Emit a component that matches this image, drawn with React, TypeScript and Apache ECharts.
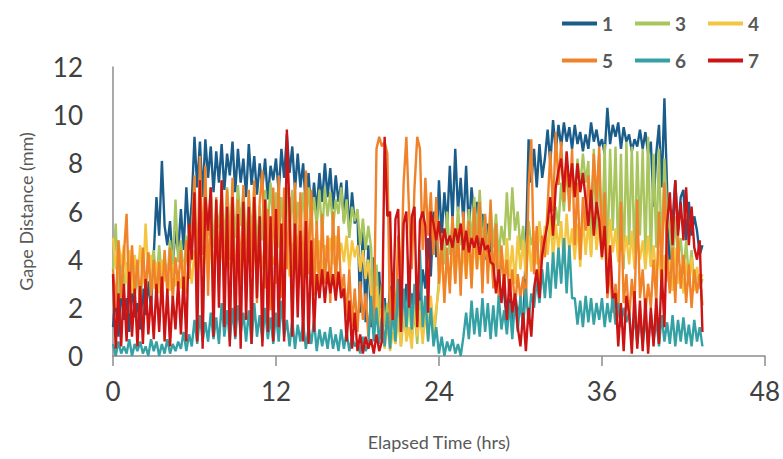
import React, { useEffect, useRef } from "react";
import * as echarts from "echarts";

// Sampling interval of the gape recordings (hours): 5 readings per hour
const SAMPLE_STEP_HRS = 0.2;

const xTicks = [0, 12, 24, 36, 48];
const yTicks = [0, 2, 4, 6, 8, 10, 12];

const seriesNames = ["1", "3", "4", "5", "6", "7"];
const seriesColors = ["#1b5d8a", "#a9c55e", "#f3c540", "#f0822a", "#35a1a4", "#cc1414"];

// Gape distance (mm), 5 readings per hour (one line = three hours)
const gape1 = [
  1.2, 2.6, 0.8, 2.9, 1.5, 2.4, 1.0, 3.0, 1.6, 2.2, 1.1, 2.8, 1.7, 3.1, 2.0,
  4.2, 6.6, 5.0, 8.1, 5.4, 4.6, 5.6, 3.8, 5.2, 4.3, 6.1, 4.4, 7.0, 5.0, 6.4,
  9.1, 7.0, 8.9, 6.6, 9.0, 7.4, 8.7, 6.8, 8.5, 7.2, 8.8, 6.9, 8.4, 7.5, 8.9,
  6.8, 8.6, 7.2, 8.2, 6.6, 8.8, 7.1, 8.3, 6.7, 8.0, 7.0, 8.2, 6.5, 7.9, 7.3,
  8.2, 6.8, 8.6, 7.4, 9.2, 7.6, 8.7, 6.9, 8.4, 7.0, 8.0, 6.2, 7.6, 5.8, 7.2,
  6.0, 7.6, 6.4, 8.0, 6.6, 7.8, 6.1, 7.5, 6.4, 7.2, 5.6, 7.3, 5.2, 6.8, 5.5,
  5.9, 1.8, 5.5, 1.4, 4.6, 1.2, 4.1, 1.6, 3.5, 1.3, 2.4, 1.1, 2.9, 1.5, 2.2,
  1.4, 2.8, 1.2, 3.0, 1.8, 2.6, 1.5, 3.2, 2.0, 3.6, 2.8, 4.9, 3.3, 6.0, 4.1,
  7.3, 5.0, 6.8, 5.4, 7.9, 5.6, 8.6, 6.0, 7.4, 5.5, 7.9, 5.2, 7.0, 5.8, 6.4,
  4.4, 5.9, 4.0, 5.5, 4.6, 3.2, 4.8, 3.0, 4.4, 2.6, 1.4, 2.4, 1.1, 2.7, 1.6,
  2.2, 1.2, 4.5, 9.0, 7.2, 8.6, 7.0, 8.8, 7.4, 8.2, 9.4, 8.0, 9.8, 8.5, 9.6,
  8.7, 9.7, 8.9, 9.5, 8.6, 9.6, 8.8, 9.3, 8.5, 9.2, 8.6, 9.7, 8.9, 9.4, 8.7,
  9.0, 8.4, 10.3, 8.8, 9.6, 9.1, 9.7, 8.6, 9.5, 8.9, 9.2, 8.5, 9.0, 8.7, 9.4,
  8.6, 9.3, 8.4, 8.9, 6.2, 8.4, 9.6, 7.0, 10.7, 6.9, 3.4, 5.6, 7.3, 5.2, 6.6,
  6.9, 4.8, 6.4, 5.0, 5.8, 5.2, 4.2, 4.6,
];
const gape3 = [
  3.6, 5.5, 2.4, 4.2, 2.8, 3.9, 2.2, 4.0, 2.5, 3.4, 2.0, 3.8, 2.6, 4.3, 2.9,
  4.4, 3.0, 4.6, 3.2, 4.0, 3.1, 4.8, 3.6, 6.5, 3.9, 4.8, 3.2, 5.0, 3.6, 4.4,
  6.0, 4.2, 6.4, 4.8, 6.8, 5.0, 7.0, 4.5, 6.2, 5.3, 6.8, 4.6, 7.0, 5.2, 6.6,
  4.9, 7.1, 5.4, 6.9, 4.6, 6.6, 5.0, 7.0, 4.4, 6.2, 4.8, 6.9, 5.2, 7.2, 5.5,
  6.8, 4.5, 6.6, 5.0, 7.0, 5.1, 6.9, 4.6, 6.4, 5.4, 6.8, 5.2, 7.0, 5.6, 6.6,
  5.4, 6.9, 5.0, 7.0, 5.8, 6.8, 5.3, 6.5, 5.9, 7.0, 5.5, 6.5, 4.9, 6.2, 5.6,
  6.1, 4.6, 5.7, 4.4, 5.4, 4.5, 2.0, 3.8, 1.6, 3.0, 1.2, 2.2, 0.5, 1.8, 0.8,
  2.1, 0.4, 1.6, 0.9, 2.4, 0.7, 1.9, 0.5, 2.3, 1.2, 2.5, 1.0, 2.2, 0.6, 1.8,
  3.2, 5.1, 3.8, 6.0, 4.2, 5.8, 4.0, 6.2, 4.6, 5.5, 4.4, 6.1, 4.8, 6.6, 5.0,
  6.9, 4.6, 5.8, 4.2, 6.3, 4.5, 5.9, 4.1, 5.4, 4.6, 6.8, 4.8, 7.0, 5.2, 6.0,
  4.4, 5.4, 4.0, 5.6, 4.6, 5.1, 4.2, 5.5, 4.5, 5.0, 4.4, 5.6, 4.8, 6.2, 5.4,
  7.2, 6.0, 7.8, 6.4, 8.0, 6.6, 8.2, 7.0, 8.4, 7.2, 8.1, 4.2, 8.6, 5.0, 8.4,
  4.4, 8.8, 3.8, 8.6, 5.2, 8.7, 4.0, 8.4, 3.6, 8.9, 4.6, 8.7, 3.9, 8.5, 5.0,
  8.6, 4.2, 9.1, 3.8, 8.4, 4.5, 8.6, 4.0, 8.2, 6.0, 5.2, 3.8, 5.8, 4.0, 4.9,
  3.4, 4.8, 3.2, 4.4, 3.0, 3.6, 2.8, 3.2,
];
const gape4 = [
  4.9, 3.6, 4.8, 3.8, 4.6, 3.0, 4.4, 2.6, 4.2, 3.2, 4.6, 3.0, 5.5, 3.4, 4.2,
  2.8, 3.9, 2.6, 4.0, 3.1, 3.7, 2.7, 3.8, 2.9, 3.5, 2.8, 3.9, 2.6, 4.0, 3.0,
  4.4, 3.1, 4.9, 3.5, 4.6, 3.2, 4.8, 3.6, 5.0, 3.4, 4.7, 3.3, 4.9, 3.6, 4.4,
  3.1, 4.6, 3.5, 4.9, 3.3, 4.8, 3.4, 4.5, 3.0, 4.7, 3.6, 4.9, 3.2, 4.5, 3.8,
  4.4, 3.1, 4.8, 3.5, 4.6, 3.3, 4.7, 3.6, 5.0, 3.4, 4.6, 3.2, 4.4, 3.7, 4.9,
  3.5, 4.8, 3.3, 4.6, 3.9, 4.9, 3.8, 5.0, 4.0, 4.7, 3.9, 5.0, 3.6, 4.8, 4.1,
  4.6, 3.5, 4.4, 3.2, 4.0, 2.6, 1.2, 2.9, 0.9, 2.0, 0.3, 1.4, 0.2, 1.0, 0.5,
  1.6, 0.4, 2.2, 0.6, 1.2, 0.3, 2.4, 0.8, 1.9, 0.5, 1.8, 0.7, 2.5, 1.1, 2.0,
  2.8, 4.2, 2.6, 4.0, 3.1, 4.5, 3.0, 4.8, 3.3, 4.4, 3.2, 4.7, 2.9, 4.9, 3.6,
  4.6, 3.1, 5.0, 3.5, 4.3, 3.0, 4.8, 3.4, 4.5, 2.8, 4.9, 3.3, 4.6, 3.0, 5.0,
  3.6, 4.8, 3.2, 5.0, 3.5, 5.2, 3.8, 5.6, 4.0, 5.4, 4.2, 5.8, 4.0, 5.5, 4.4,
  5.6, 3.8, 5.9, 4.3, 5.3, 4.0, 5.5, 3.7, 5.8, 4.2, 5.6, 4.1, 6.0, 4.4, 5.5,
  4.0, 5.4, 3.8, 5.7, 4.3, 5.3, 3.9, 5.6, 4.2, 5.0, 3.8, 5.2, 3.6, 4.9, 4.0,
  4.8, 3.6, 5.0, 3.7, 4.6, 3.3, 4.4, 2.8, 4.2, 3.1, 4.0, 2.7, 4.5, 3.0, 3.8,
  2.6, 3.9, 2.9, 4.1, 2.7, 3.7, 3.0, 3.4,
];
const gape5 = [
  3.6, 2.0, 4.8, 2.4, 4.2, 5.9, 2.2, 4.6, 2.6, 4.0, 2.1, 4.5, 2.7, 4.3, 2.4,
  4.0, 2.5, 3.9, 2.2, 4.4, 2.6, 4.5, 2.3, 4.1, 2.9, 4.4, 2.6, 4.8, 3.2, 5.2,
  7.5, 3.0, 8.3, 4.2, 7.9, 2.5, 7.0, 1.8, 6.6, 3.2, 7.3, 2.6, 6.9, 4.0, 7.4,
  2.0, 6.5, 3.0, 7.1, 2.4, 6.9, 3.5, 7.3, 2.2, 6.4, 7.7, 2.8, 6.1, 1.9, 7.0,
  3.0, 7.5, 2.4, 7.0, 3.6, 6.6, 2.1, 7.2, 3.0, 6.8, 2.7, 7.7, 3.4, 6.9, 2.5,
  5.6, 2.4, 5.9, 3.0, 5.0, 2.2, 6.0, 2.8, 5.4, 2.6, 3.4, 1.6, 3.6, 1.2, 2.8,
  1.0, 3.1, 1.5, 2.6, 0.8, 2.4, 1.0, 8.6, 9.1, 8.7, 8.9, 8.4, 1.0, 3.5, 1.4,
  5.0, 3.2, 7.2, 9.1, 6.0, 3.6, 7.0, 9.1, 8.6, 4.4, 7.4, 5.0, 6.8, 4.2, 6.6,
  3.0, 4.8, 2.2, 4.5, 2.6, 5.8, 3.0, 5.3, 2.5, 6.0, 3.2, 5.6, 2.8, 6.2, 3.6,
  6.4, 2.6, 5.9, 3.0, 6.5, 2.8, 5.5, 2.4, 4.6, 3.0, 4.0, 2.4, 3.6, 2.0, 3.4,
  2.4, 3.3, 2.0, 7.0, 9.0, 3.4, 5.4, 3.0, 5.0, 4.1, 6.2, 8.5, 6.0, 9.3, 7.1,
  8.9, 6.4, 8.2, 6.0, 8.6, 4.6, 7.2, 4.0, 6.6, 5.2, 7.5, 6.0, 8.4, 6.4, 8.7,
  4.2, 6.8, 2.4, 3.6, 1.8, 3.0, 1.6, 6.4, 2.2, 3.4, 1.5, 3.2, 2.0, 6.5, 2.4,
  3.6, 1.8, 3.0, 2.0, 4.0, 2.2, 6.0, 3.6, 7.2, 4.0, 2.6, 4.5, 2.2, 5.0, 2.8,
  4.2, 2.2, 3.8, 2.0, 3.6, 2.6, 3.4, 2.1,
];
const gape6 = [
  0.5, 0.0, 0.6, 0.1, 0.4, 0.1, 0.7, 0.0, 0.5, 0.2, 0.6, 0.1, 0.4, 0.0, 0.7,
  0.2, 0.6, 0.0, 0.5, 0.1, 0.7, 0.1, 0.5, 0.2, 0.6, 0.3, 1.0, 0.2, 0.9, 0.4,
  1.5, 0.5, 1.7, 0.6, 1.4, 0.6, 1.8, 0.7, 1.6, 0.5, 2.2, 0.8, 1.9, 0.6, 2.0,
  0.7, 2.1, 0.9, 1.8, 0.6, 1.9, 0.5, 2.2, 0.8, 1.7, 0.6, 2.0, 0.7, 1.6, 0.5,
  1.8, 0.6, 2.3, 0.8, 1.5, 0.4, 1.5, 0.3, 1.3, 0.6, 1.4, 0.3, 1.2, 0.5, 1.5,
  0.2, 1.1, 0.4, 1.0, 0.3, 1.2, 0.3, 0.9, 0.2, 1.1, 0.3, 1.0, 0.2, 0.8, 0.4,
  0.6, 0.1, 0.8, 0.2, 0.5, 2.5, 0.6, 2.0, 0.5, 1.6, 0.4, 1.8, 0.3, 2.0, 0.6,
  3.2, 1.0, 2.8, 1.2, 3.5, 1.1, 3.0, 1.4, 4.4, 1.2, 2.5, 0.6, 2.0, 0.4, 1.2,
  0.1, 0.8, 0.0, 0.6, 0.2, 0.7, 0.1, 0.5, 0.0, 0.8, 1.8, 0.7, 2.3, 0.9, 2.0,
  0.8, 2.4, 1.0, 2.2, 0.7, 2.1, 0.8, 2.5, 1.1, 1.9, 0.9, 2.2, 0.7, 2.4, 1.0,
  2.5, 1.2, 2.8, 1.4, 2.6, 2.0, 3.2, 2.2, 3.6, 2.4, 3.9, 2.4, 4.3, 2.8, 4.5,
  3.0, 4.9, 2.6, 4.6, 2.4, 2.4, 1.3, 2.3, 1.2, 2.5, 1.4, 2.4, 1.3, 2.2, 1.5,
  2.4, 1.2, 2.2, 1.4, 2.5, 1.3, 2.2, 1.2, 2.0, 1.4, 1.8, 0.6, 1.7, 0.5, 1.6,
  0.5, 1.6, 0.4, 1.8, 0.6, 1.5, 0.4, 1.7, 0.6, 1.4, 0.5, 1.7, 0.4, 1.5, 0.6,
  1.6, 0.5, 1.3, 0.4, 1.5, 0.6, 1.2, 0.4,
];
const gape7 = [
  3.4, 0.3, 2.6, 0.4, 3.0, 0.6, 3.5, 0.8, 2.8, 0.4, 2.9, 0.5, 3.2, 0.9, 2.5,
  0.7, 3.0, 1.0, 3.3, 0.6, 2.8, 0.4, 2.5, 1.1, 3.1, 0.9, 3.3, 0.6, 5.5, 4.0,
  6.8, 0.6, 7.3, 0.3, 6.6, 5.2, 7.0, 0.8, 6.5, 2.0, 7.3, 1.2, 6.2, 0.4, 6.6,
  0.8, 5.9, 0.3, 6.4, 1.5, 6.2, 0.5, 6.6, 2.4, 5.8, 0.4, 6.5, 1.0, 5.8, 0.6,
  6.1, 1.2, 5.5, 0.6, 9.4, 6.0, 0.8, 5.5, 1.6, 5.2, 0.6, 5.6, 0.5, 4.8, 1.0,
  3.4, 2.4, 3.6, 2.2, 3.5, 2.6, 3.4, 2.3, 3.5, 2.4, 2.8, 0.6, 2.3, 0.3, 1.8,
  0.2, 0.9, 0.1, 0.8, 0.3, 0.7, 0.1, 0.9, 0.2, 0.6, 9.1, 5.8, 6.0, 1.5, 5.7,
  6.1, 1.0, 5.5, 6.0, 2.0, 5.8, 6.2, 1.2, 5.6, 6.0, 5.4, 1.8, 6.0, 5.5, 4.8,
  5.6, 4.4, 5.3, 4.6, 5.0, 4.5, 5.3, 4.7, 5.5, 4.4, 5.2, 4.3, 4.9, 4.5, 5.0,
  4.2, 4.9, 4.4, 4.6, 3.9, 3.8, 2.6, 3.6, 2.2, 3.4, 1.5, 3.2, 1.8, 2.6, 1.2,
  0.4, 1.8, 0.2, 2.0, 0.8, 2.8, 3.6, 2.4, 4.2, 4.9, 5.5, 6.6, 5.0, 7.0, 7.7,
  8.2, 6.8, 8.5, 7.0, 8.0, 6.6, 8.0, 6.8, 7.6, 6.5, 5.4, 6.9, 5.0, 6.4, 5.6,
  4.1, 5.4, 2.6, 4.6, 2.4, 2.6, 0.4, 2.2, 0.2, 2.5, 1.8, 0.1, 2.7, 0.3, 2.3,
  0.2, 2.4, 0.1, 2.0, 0.4, 2.4, 0.5, 3.6, 1.2, 5.5, 6.8, 4.6, 7.3, 5.0, 6.4,
  4.8, 7.0, 4.6, 6.2, 4.5, 4.0, 4.8, 1.0,
];

const allSeries = [gape1, gape3, gape4, gape5, gape6, gape7];

const FONT = "Lato, 'Open Sans', sans-serif";

export default function App() {
  const ref = useRef<HTMLDivElement>(null);

  useEffect(() => {
    if (!ref.current) return;
    const chart = echarts.init(ref.current, undefined, { renderer: "svg" });

    const series = allSeries.map((vals, s) => ({
      name: seriesNames[s],
      type: "line",
      symbol: "none",
      showSymbol: false,
      data: vals.map((v, i) => [Math.round(i * SAMPLE_STEP_HRS * 10) / 10, v]),
      lineStyle: { color: seriesColors[s], width: 2.4 },
      itemStyle: { color: seriesColors[s] },
      emphasis: { disabled: true },
    }));

    const legendCommon = {
      left: 557,
      orient: "horizontal",
      icon: "rect",
      itemWidth: 35,
      itemHeight: 4,
      itemGap: 22,
      textStyle: { fontFamily: FONT, fontSize: 19, fontWeight: "bold", color: "#595959" },
    };

    chart.setOption({
      animation: false,
      textStyle: { fontFamily: FONT },
      legend: [
        { ...legendCommon, top: 9, data: ["1", "3", "4"] },
        { ...legendCommon, top: 46, data: ["5", "6", "7"] },
      ],
      grid: { left: 113, right: 18, top: 67, bottom: 103, containLabel: false },
      xAxis: {
        type: "value",
        min: xTicks[0],
        max: xTicks[xTicks.length - 1],
        interval: 12,
        name: "Elapsed Time (hrs)",
        nameLocation: "middle",
        nameGap: 77,
        nameTextStyle: { fontFamily: FONT, fontSize: 18, color: "#595959" },
        axisLine: { show: true, lineStyle: { color: "#8c8c8c", width: 1.5 } },
        axisTick: { show: true, inside: false, length: 10, lineStyle: { color: "#8c8c8c", width: 1.5 } },
        axisLabel: { fontFamily: FONT, fontSize: 26, color: "#404040", margin: 22 },
        splitLine: { show: false },
      },
      yAxis: {
        type: "value",
        min: yTicks[0],
        max: yTicks[yTicks.length - 1],
        interval: 2,
        name: "Gape Distance (mm)",
        nameLocation: "middle",
        nameGap: 78,
        nameRotate: 90,
        nameTextStyle: { fontFamily: FONT, fontSize: 18, color: "#595959" },
        axisLine: { show: true, lineStyle: { color: "#8c8c8c", width: 1.5 } },
        axisTick: { show: false },
        axisLabel: { fontFamily: FONT, fontSize: 26, color: "#404040", margin: 30 },
        splitLine: { show: false },
      },
      series,
    });

    return () => chart.dispose();
  }, []);

  return <div ref={ref} style={{ width: 783, height: 459, position: "absolute", left: 0, top: 0 }} />;
}
